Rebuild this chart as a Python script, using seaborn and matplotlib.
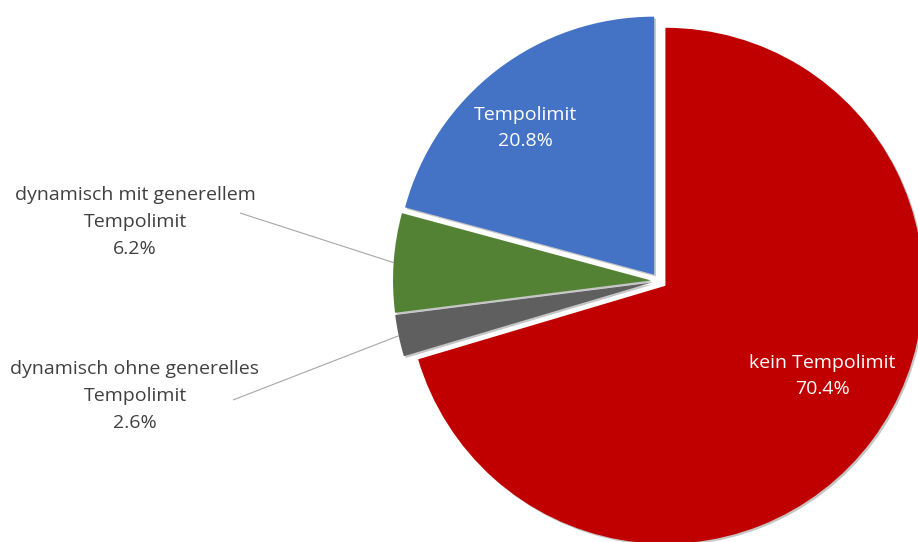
import numpy as np
import matplotlib
matplotlib.use("Agg")
import matplotlib.pyplot as plt
import seaborn as sns

# ---- data ----
categories = ["kein Tempolimit", "dynamisch ohne generelles\nTempolimit",
              "dynamisch mit generellem\nTempolimit", "Tempolimit"]
shares = [70.4, 2.6, 6.2, 20.8]
colors = ["#C00000", "#5F5F5F", "#548235", "#4472C4"]

sns.set_theme(style="white")
plt.rcParams['font.family'] = ['Open Sans', 'DejaVu Sans']

W, H = 918, 542
fig = plt.figure(figsize=(W / 100, H / 100), dpi=100)
ax = fig.add_axes([0, 0, 1, 1])

R = 258
cx, cy = 659, H - 281
wedges, _ = ax.pie(shares, colors=colors, startangle=90, counterclock=False,
                   radius=R, center=(cx, cy), explode=[0.031 * R] * 4,
                   wedgeprops=dict(linewidth=0),
                   shadow={'ox': 1.3, 'oy': -1.3, 'facecolor': '#7F7F7F',
                           'edgecolor': '#7F7F7F', 'linewidth': 0,
                           'alpha': 0.45})
ax.set_xlim(0, W)
ax.set_ylim(0, H)
ax.set_aspect('equal')
ax.axis('off')

def fmt(v):
    return f"{v:.1f}%"

FS = 14
LS = 1.62

# inside labels (white)
ax.text(525, H - 128, f"{categories[3]}\n{fmt(shares[3])}", color="white",
        ha="center", va="center", fontsize=FS, linespacing=LS)
ax.text(822, H - 376, f"{categories[0]}\n{fmt(shares[0])}", color="white",
        ha="center", va="center", fontsize=FS, linespacing=LS)

# outside labels with leader lines to the wedge arcs
outside = [(2, (135, H - 222), (240, H - 213)),
           (1, (135, H - 396), (233, H - 400))]
for idx, tpos, lstart in outside:
    w = wedges[idx]
    th = np.deg2rad((w.theta1 + w.theta2) / 2)
    wx, wy = w.center
    px = wx + w.r * np.cos(th)
    py = wy + w.r * np.sin(th)
    ax.plot([lstart[0], px], [lstart[1], py], color="#A6A6A6", lw=0.8,
            solid_capstyle="butt", zorder=0)
    ax.text(tpos[0], tpos[1], f"{categories[idx]}\n{fmt(shares[idx])}",
            color="#404040", ha="center", va="center", fontsize=FS,
            linespacing=LS)

fig.savefig("out.png", dpi=100)
